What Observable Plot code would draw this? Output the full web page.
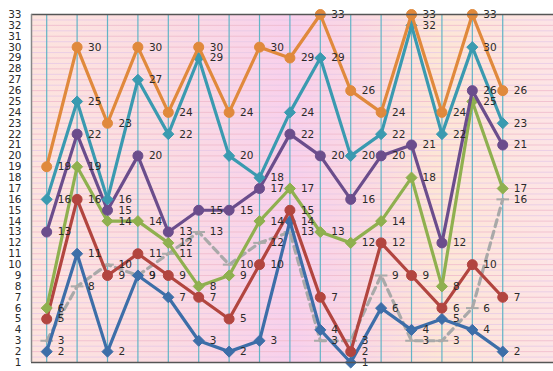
<!DOCTYPE html>
<html><head><meta charset="utf-8">
<script src="https://cdn.jsdelivr.net/npm/d3@7"></script>
<script src="https://cdn.jsdelivr.net/npm/@observablehq/plot@0.6"></script>
<style>body{margin:0;background:#fff;} #chart svg{display:block;}</style>
</head><body><div id="chart"></div>
<script>
const points = [1,2,3,4,5,6,7,8,9,10,11,12,13,14,15,16];
const yTicks = d3.range(1, 34);
const orange = [19,30,23,30,24,30,24,30,29,33,26,24,33,24,33,26];
const teal   = [16,25,16,27,22,29,20,18,24,29,20,22,32,22,30,23];
const purple = [13,22,15,20,13,15,15,17,22,20,16,20,21,12,26,21];
const green  = [6,19,14,14,12,8,9,14,17,13,12,14,18,8,25,17];
const red    = [5,16,9,11,9,7,5,10,15,7,2,12,9,6,10,7];
const blue   = [2,11,2,9,7,3,2,3,14,4,1,6,4,5,4,2];
const gray   = [3,8,10,9,11,13,10,12,13,3,3,9,3,3,6,16];

const dashSymbol = {draw(ctx, size){ const r = Math.sqrt(size/Math.PI)*1.4; ctx.moveTo(-r,0); ctx.lineTo(r,0); }};

const series = [
  {values: gray,   color: "#a9a9a9", dash: "7,5", symbol: dashSymbol, hollow: true},
  {values: blue,   color: "#3d6ea8", symbol: "diamond2"},
  {values: red,    color: "#b2453f", symbol: "circle"},
  {values: green,  color: "#8fb04f", symbol: "diamond2"},
  {values: purple, color: "#6b4d8c", symbol: "circle"},
  {values: teal,   color: "#3a9ab0", symbol: "diamond2"},
  {values: orange, color: "#e0893c", symbol: "circle"}
];

const toRows = s => s.values.map((v, i) => ({i, v, p: points[i]}));
const hgrid = d3.range(1, 33.01, 0.5);

const marks = [
  Plot.frame({fill: "url(#bgGrad)", stroke: null}),
  Plot.ruleY(hgrid, {y: d => d, stroke: d => Number.isInteger(d) ? "#efb9cc" : "#e6c8e6", strokeWidth: 1, strokeOpacity: 0.8}),
  Plot.ruleX(points.map((p, i) => i), {x: d => d, stroke: "#62b4c6", strokeWidth: 1.2}),
];
for (const s of series) {
  marks.push(Plot.line(toRows(s), {x: "i", y: "v", stroke: s.color, strokeWidth: 3.2, strokeDasharray: s.dash, strokeLinejoin: "round"}));
  if (s.hollow) {
    marks.push(Plot.dot(toRows(s), {x: "i", y: "v", symbol: s.symbol, r: 4.5, stroke: s.color, strokeWidth: 2}));
  } else {
    marks.push(Plot.dot(toRows(s), {x: "i", y: "v", symbol: s.symbol, r: 5, fill: s.color, stroke: s.color, strokeWidth: 1}));
  }
}
for (const s of series) {
  marks.push(Plot.text(toRows(s), {x: "i", y: "v", text: d => String(d.v), dx: 11, textAnchor: "start", fill: "#2a2a2a", fontSize: 10.5}));
}
marks.push(Plot.ruleY([33], {stroke: "#555", strokeWidth: 1.5}));
marks.push(Plot.ruleY([1], {stroke: "#555", strokeWidth: 1.5}));
marks.push(Plot.ruleX([-0.5], {stroke: "#888", strokeWidth: 1.5}));

const chart = Plot.plot({
  width: 553, height: 371,
  marginLeft: 31, marginRight: 0, marginTop: 14, marginBottom: 9,
  style: {fontFamily: "DejaVu Sans, Verdana, sans-serif", fontSize: "10.5px", background: "#fff", color: "#2a2a2a"},
  x: {type: "linear", domain: [-0.5, 16.67], axis: null},
  y: {domain: [1, 33], ticks: yTicks, tickSize: 0, tickPadding: 10, label: null, tickFormat: d => String(d)},
  marks
});
const svg = d3.select(chart);
const defs = svg.insert("defs", ":first-child");
const g = defs.append("linearGradient").attr("id", "bgGrad").attr("x1", 0).attr("x2", 1).attr("y1", 0).attr("y2", 0);
[[0, "#fde4de"], [0.25, "#fbdce2"], [0.5, "#f8d0ec"], [0.62, "#fad8e4"], [0.78, "#fde6d6"], [1, "#fde4e6"]]
  .forEach(([o, c]) => g.append("stop").attr("offset", o).attr("stop-color", c));
document.getElementById("chart").appendChild(chart);
</script>
</body></html>
